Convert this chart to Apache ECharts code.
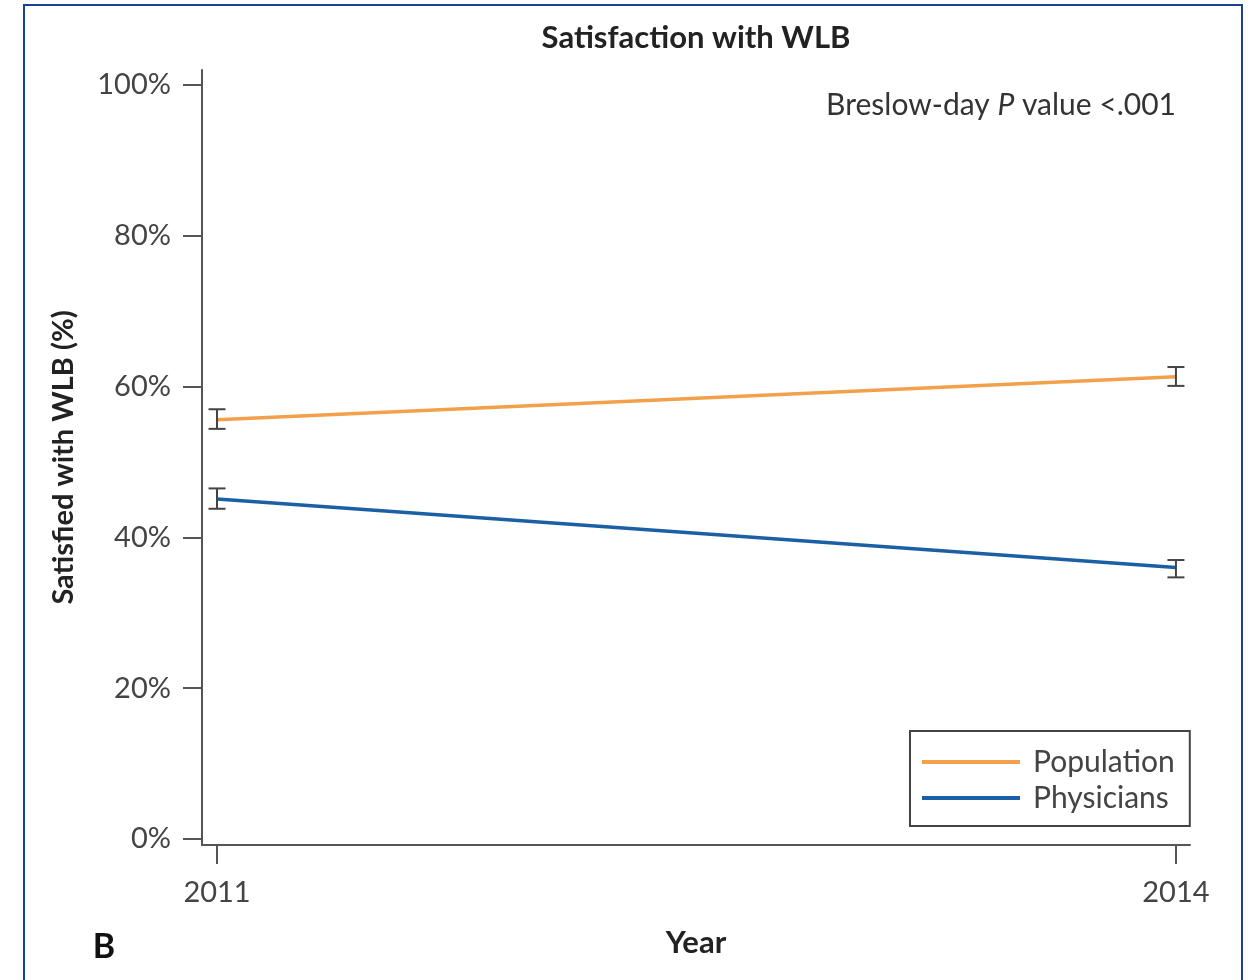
<!DOCTYPE html>
<html>
<head>
<meta charset="utf-8">
<script src="https://cdn.jsdelivr.net/npm/echarts@6/dist/echarts.min.js"></script>
<style>
  html, body { margin: 0; padding: 0; background: #fff; }
  #chart { width: 1253px; height: 980px; }
</style>
</head>
<body>
<div id="chart"></div>
<script>
// Survey years and share satisfied with work-life balance (%)
const years = [2011, 2014];
const populationPct = [55.6, 61.3];
const populationLow = [54.4, 60.1];
const populationHigh = [57.0, 62.6];
const physiciansPct = [45.1, 36.0];
const physiciansLow = [43.8, 34.7];
const physiciansHigh = [46.5, 37.0];
const yTicks = [0, 20, 40, 60, 80, 100];
const seriesNames = ['Population', 'Physicians'];

const ORANGE = '#F2A04A';
const BLUE = '#1B5FA6';
const AXIS = '#555';
const TEXT = '#444';
const FONT = 'Lato, "Open Sans", sans-serif';

const toPairs = (vals) => years.map((y, i) => [y, vals[i]]);

// Error bars: [x, low, high]
const errorData = [];
years.forEach((y, i) => {
  errorData.push([y, populationLow[i], populationHigh[i]]);
  errorData.push([y, physiciansLow[i], physiciansHigh[i]]);
});

function renderErrorBar(params, api) {
  const x = api.value(0);
  const lo = api.coord([x, api.value(1)]);
  const hi = api.coord([x, api.value(2)]);
  const half = 8.5;
  const style = { stroke: '#444', lineWidth: 2, fill: null };
  return {
    type: 'group',
    children: [
      { type: 'line', shape: { x1: lo[0], y1: lo[1], x2: hi[0], y2: hi[1] }, style },
      { type: 'line', shape: { x1: lo[0] - half, y1: lo[1], x2: lo[0] + half, y2: lo[1] }, style },
      { type: 'line', shape: { x1: hi[0] - half, y1: hi[1], x2: hi[0] + half, y2: hi[1] }, style }
    ]
  };
}

const chart = echarts.init(document.getElementById('chart'), null, { renderer: 'canvas' });

chart.setOption({
  backgroundColor: '#fff',
  animation: false,
  grid: { left: 202, right: 63, top: 70, bottom: 135 },
  xAxis: {
    type: 'value',
    min: 2010.953,
    max: 2014.044,
    splitLine: { show: false },
    axisLine: { show: true, onZero: false, lineStyle: { color: AXIS, width: 2 } },
    axisTick: { show: true, customValues: years, length: 19, lineStyle: { color: AXIS, width: 2 } },
    axisLabel: {
      customValues: years,
      formatter: (v) => String(Math.round(v)),
      fontSize: 29, color: TEXT, fontFamily: FONT, margin: 33
    },
    name: 'Year',
    nameLocation: 'middle',
    nameGap: 82,
    nameTextStyle: { fontSize: 31, fontWeight: 'bold', color: '#222', fontFamily: FONT }
  },
  yAxis: {
    type: 'value',
    min: -0.8,
    max: 102,
    splitLine: { show: false },
    axisLine: { show: true, onZero: false, lineStyle: { color: AXIS, width: 2 } },
    axisTick: { show: true, customValues: yTicks, length: 19, lineStyle: { color: AXIS, width: 2 } },
    axisLabel: {
      customValues: yTicks,
      formatter: '{value}%',
      fontSize: 29, color: TEXT, fontFamily: FONT, margin: 31
    },
    name: 'Satisfied with WLB (%)',
    nameLocation: 'middle',
    nameRotate: 90,
    nameGap: 124,
    nameTextStyle: { fontSize: 29, fontWeight: 'bold', color: '#222', fontFamily: FONT }
  },
  legend: {
    data: seriesNames,
    orient: 'vertical',
    left: 910,
    top: 731,
    icon: 'rect',
    itemWidth: 98,
    itemHeight: 4,
    itemGap: 6,
    padding: [16, 15, 13, 12],
    borderColor: '#444',
    borderWidth: 2,
    borderRadius: 0,
    backgroundColor: '#fff',
    textStyle: { fontSize: 30, color: TEXT, fontFamily: FONT, lineHeight: 29, padding: [0, 0, 0, 8] }
  },
  graphic: [
    {
      type: 'rect', silent: true, z: 100,
      shape: { x: 24, y: 5, width: 1218, height: 1010 },
      style: { fill: null, stroke: '#1C3F94', lineWidth: 2 }
    },
    {
      type: 'text', z: 100,
      style: {
        x: 696, y: 38, text: 'Satisfaction with WLB',
        textAlign: 'center', textVerticalAlign: 'middle',
        font: 'bold 31px ' + FONT, fill: '#222'
      }
    },
    {
      type: 'text', z: 100,
      style: {
        x: 1176, y: 105,
        text: 'Breslow-day {i|P} value <.001',
        textAlign: 'right', textVerticalAlign: 'middle',
        font: '30px ' + FONT, fill: '#333',
        rich: { i: { fontStyle: 'italic', fontSize: 30, fontFamily: FONT, fill: '#333' } }
      }
    },
    {
      type: 'text', z: 100,
      style: {
        x: 104, y: 947, text: 'B',
        textAlign: 'center', textVerticalAlign: 'middle',
        font: 'bold 34px ' + FONT, fill: '#111'
      }
    }
  ],
  series: [
    {
      name: seriesNames[0],
      type: 'line',
      data: toPairs(populationPct),
      symbol: 'none',
      lineStyle: { color: ORANGE, width: 3.5 },
      itemStyle: { color: ORANGE },
      z: 2
    },
    {
      name: seriesNames[1],
      type: 'line',
      data: toPairs(physiciansPct),
      symbol: 'none',
      lineStyle: { color: BLUE, width: 3.5 },
      itemStyle: { color: BLUE },
      z: 2
    },
    {
      name: 'error',
      type: 'custom',
      renderItem: renderErrorBar,
      data: errorData,
      z: 3,
      silent: true
    }
  ]
});
</script>
</body>
</html>
